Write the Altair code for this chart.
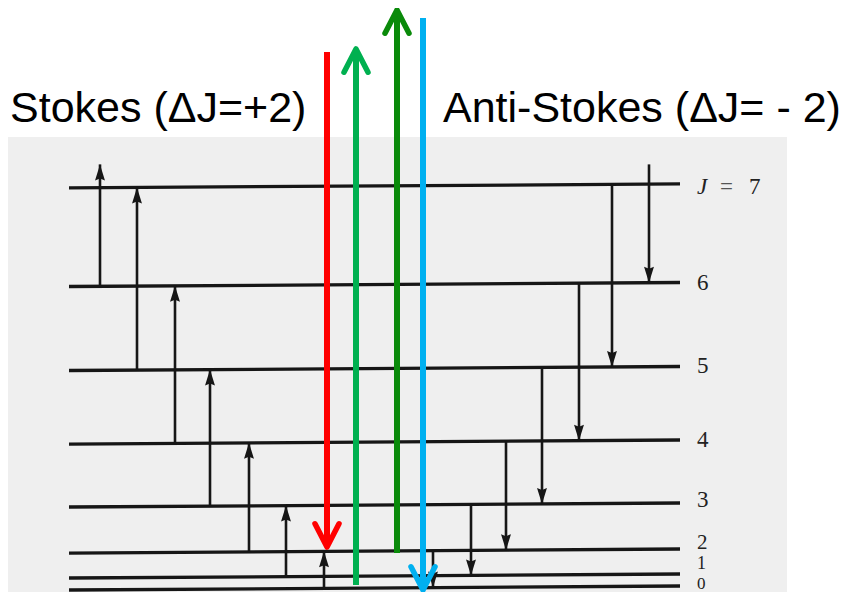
import altair as alt
import pandas as pd

# ---------------- data ----------------
# rotational levels J and their energies (arbitrary units, ~J(J+1))
J_levels = [0, 1, 2, 3, 4, 5, 6, 7]
level_energy = [0.0, 1.67, 5.15, 11.56, 20.33, 30.57, 42.27, 56.0]
level_labels = ["0", "1", "2", "3", "4", "5", "6", "7"]
label_energy = [0.50, 3.34, 6.27, 12.2, 20.6, 30.9, 42.5, 55.85]
label_size = [17, 18, 21, 23, 23, 23, 23, 23]
J8_energy = 59.0  # arrow end drawn above the top level (J = 8)

# Stokes transitions (ΔJ = +2): horizontal position, lower J, upper J
stokes_pos = [31, 68, 106, 141, 180, 217, 255]
stokes_from = [6, 5, 4, 3, 2, 1, 0]
stokes_to = [8, 7, 6, 5, 4, 3, 2]

# anti-Stokes transitions (ΔJ = -2)
anti_pos = [364, 402, 437, 473, 510, 543, 580]
anti_from = [2, 3, 4, 5, 6, 7, 8]
anti_to = [0, 1, 2, 3, 4, 5, 6]

# coloured photon arrows: name, position, tail energy, tip energy
photon_names = ["red", "light green", "dark green", "blue"]
photon_pos = [258, 287, 328, 354]
photon_from = [74.65, 0.42, 4.87, 79.4]
photon_to = [5.71, 75.07, 80.5, -0.28]
photon_colors = ["#ff0000", "#00b050", "#0a8a0a", "#00b0f0"]

titles = ["Stokes (ΔJ=+2)", "Anti-Stokes (ΔJ= - 2)"]
title_pos = [-59, 374]
title_energy = [64.9, 64.9]

LEVEL_LEN = 611
TILT = 0.28

# ---------------- derived tables ----------------
E = dict(zip(J_levels, level_energy))
E[8] = J8_energy


def e_at(j, x):
    return E[j] + (TILT * (2 * x / LEVEL_LEN - 1) if j <= 7 else 0)


levels = pd.DataFrame({
    "J": J_levels,
    "x": [0] * 8,
    "x2": [LEVEL_LEN] * 8,
    "y": [e - TILT for e in level_energy],
    "y2": [e + TILT for e in level_energy],
})

lab = pd.DataFrame({
    "text": level_labels,
    "x": [628] * 7 + [680],
    "y": label_energy,
    "fs": label_size,
})
jlab = pd.DataFrame({"text": ["J"], "x": [628], "y": [label_energy[-1]]})
eqlab = pd.DataFrame({"text": ["="], "x": [651], "y": [label_energy[-1]]})

black = pd.DataFrame({
    "x": stokes_pos + anti_pos,
    "y": [e_at(a, x) for a, x in zip(stokes_from, stokes_pos)]
    + [e_at(a, x) for a, x in zip(anti_from, anti_pos)],
    "y2": [e_at(b, x) for b, x in zip(stokes_to, stokes_pos)]
    + [e_at(b, x) for b, x in zip(anti_to, anti_pos)],
    "dir": ["up"] * 7 + ["down"] * 7,
})

photons = pd.DataFrame({
    "name": photon_names,
    "x": photon_pos,
    "y": photon_from,
    "y2": photon_to,
    "color": photon_colors,
    "dir": ["down", "up", "up", "down"],
})

tit = pd.DataFrame({"text": titles, "x": title_pos, "y": title_energy})

bg = pd.DataFrame({"x": [-61], "x2": [718], "y": [-0.557], "y2": [62.81]})

# ---------------- scales ----------------
xs = alt.Scale(domain=[-61, 777], nice=False, zero=False)
ys = alt.Scale(domain=[-0.557, 80.78], nice=False, zero=False)
X = lambda f="x": alt.X(f"{f}:Q", scale=xs, axis=None)
Y = lambda f="y": alt.Y(f"{f}:Q", scale=ys, axis=None)

background = alt.Chart(bg).mark_rect(color="#efefef").encode(
    x=X(), x2="x2:Q", y=Y(), y2="y2:Q"
)

level_lines = alt.Chart(levels).mark_rule(color="#161616", strokeWidth=3.3).encode(
    x=X(), x2="x2:Q", y=Y(), y2="y2:Q"
)

black_shafts = alt.Chart(black).mark_rule(color="#161616", strokeWidth=2.6).encode(
    x=X(), y=Y(), y2="y2:Q"
)

UP_HEAD = "M0,0 L0.62,2 L0,1.75 L-0.62,2 Z"
DOWN_HEAD = "M0,0 L0.62,-2 L0,-1.75 L-0.62,-2 Z"

black_up = alt.Chart(black).transform_filter("datum.dir == 'up'").mark_point(
    shape=UP_HEAD, size=256, filled=True, color="#161616", opacity=1, strokeWidth=0
).encode(x=X(), y=Y("y2"))

black_down = alt.Chart(black).transform_filter("datum.dir == 'down'").mark_point(
    shape=DOWN_HEAD, size=256, filled=True, color="#161616", opacity=1, strokeWidth=0
).encode(x=X(), y=Y("y2"))

photon_shafts = alt.Chart(photons).mark_rule(strokeWidth=6).encode(
    x=X(), y=Y(), y2="y2:Q", color=alt.Color("color:N", scale=None)
)

UP_CHEV = "M-1.5,2.9 L0,0 L1.5,2.9"
DOWN_CHEV = "M-1.5,-2.9 L0,0 L1.5,-2.9"

photon_up = alt.Chart(photons).transform_filter("datum.dir == 'up'").mark_point(
    shape=UP_CHEV, size=256, filled=False, opacity=1, strokeWidth=5.5,
    strokeCap="round", strokeJoin="round"
).encode(x=X(), y=Y("y2"), stroke=alt.Color("color:N", scale=None))

photon_down = alt.Chart(photons).transform_filter("datum.dir == 'down'").mark_point(
    shape=DOWN_CHEV, size=256, filled=False, opacity=1, strokeWidth=5.5,
    strokeCap="round", strokeJoin="round"
).encode(x=X(), y=Y("y2"), stroke=alt.Color("color:N", scale=None))

labels = alt.Chart(lab).mark_text(
    font="Liberation Serif", align="left", baseline="middle", color="#222222"
).encode(x=X(), y=Y(), text="text:N", size=alt.Size("fs:Q", scale=None))

j_label = alt.Chart(jlab).mark_text(
    font="Liberation Serif", fontSize=23, fontStyle="italic", align="left",
    baseline="middle", color="#222222"
).encode(x=X(), y=Y(), text="text:N")

eq_label = alt.Chart(eqlab).mark_text(
    font="Liberation Serif", fontSize=23, align="left", baseline="middle", color="#555555"
).encode(x=X(), y=Y(), text="text:N")

title_text = alt.Chart(tit).mark_text(
    font="Liberation Sans", fontSize=43, align="left", baseline="alphabetic", color="#000000"
).encode(x=X(), y=Y(), text="text:N")

chart = alt.layer(
    background, level_lines, black_shafts, black_up, black_down,
    photon_shafts, photon_up, photon_down,
    labels, j_label, eq_label, title_text,
).properties(
    width=838, height=584, padding=0,
    autosize=alt.AutoSizeParams(type="none"),
    background="#ffffff",
).configure_view(strokeWidth=0)

chart.save("out.html", embed_options={"renderer": "svg", "actions": False})
